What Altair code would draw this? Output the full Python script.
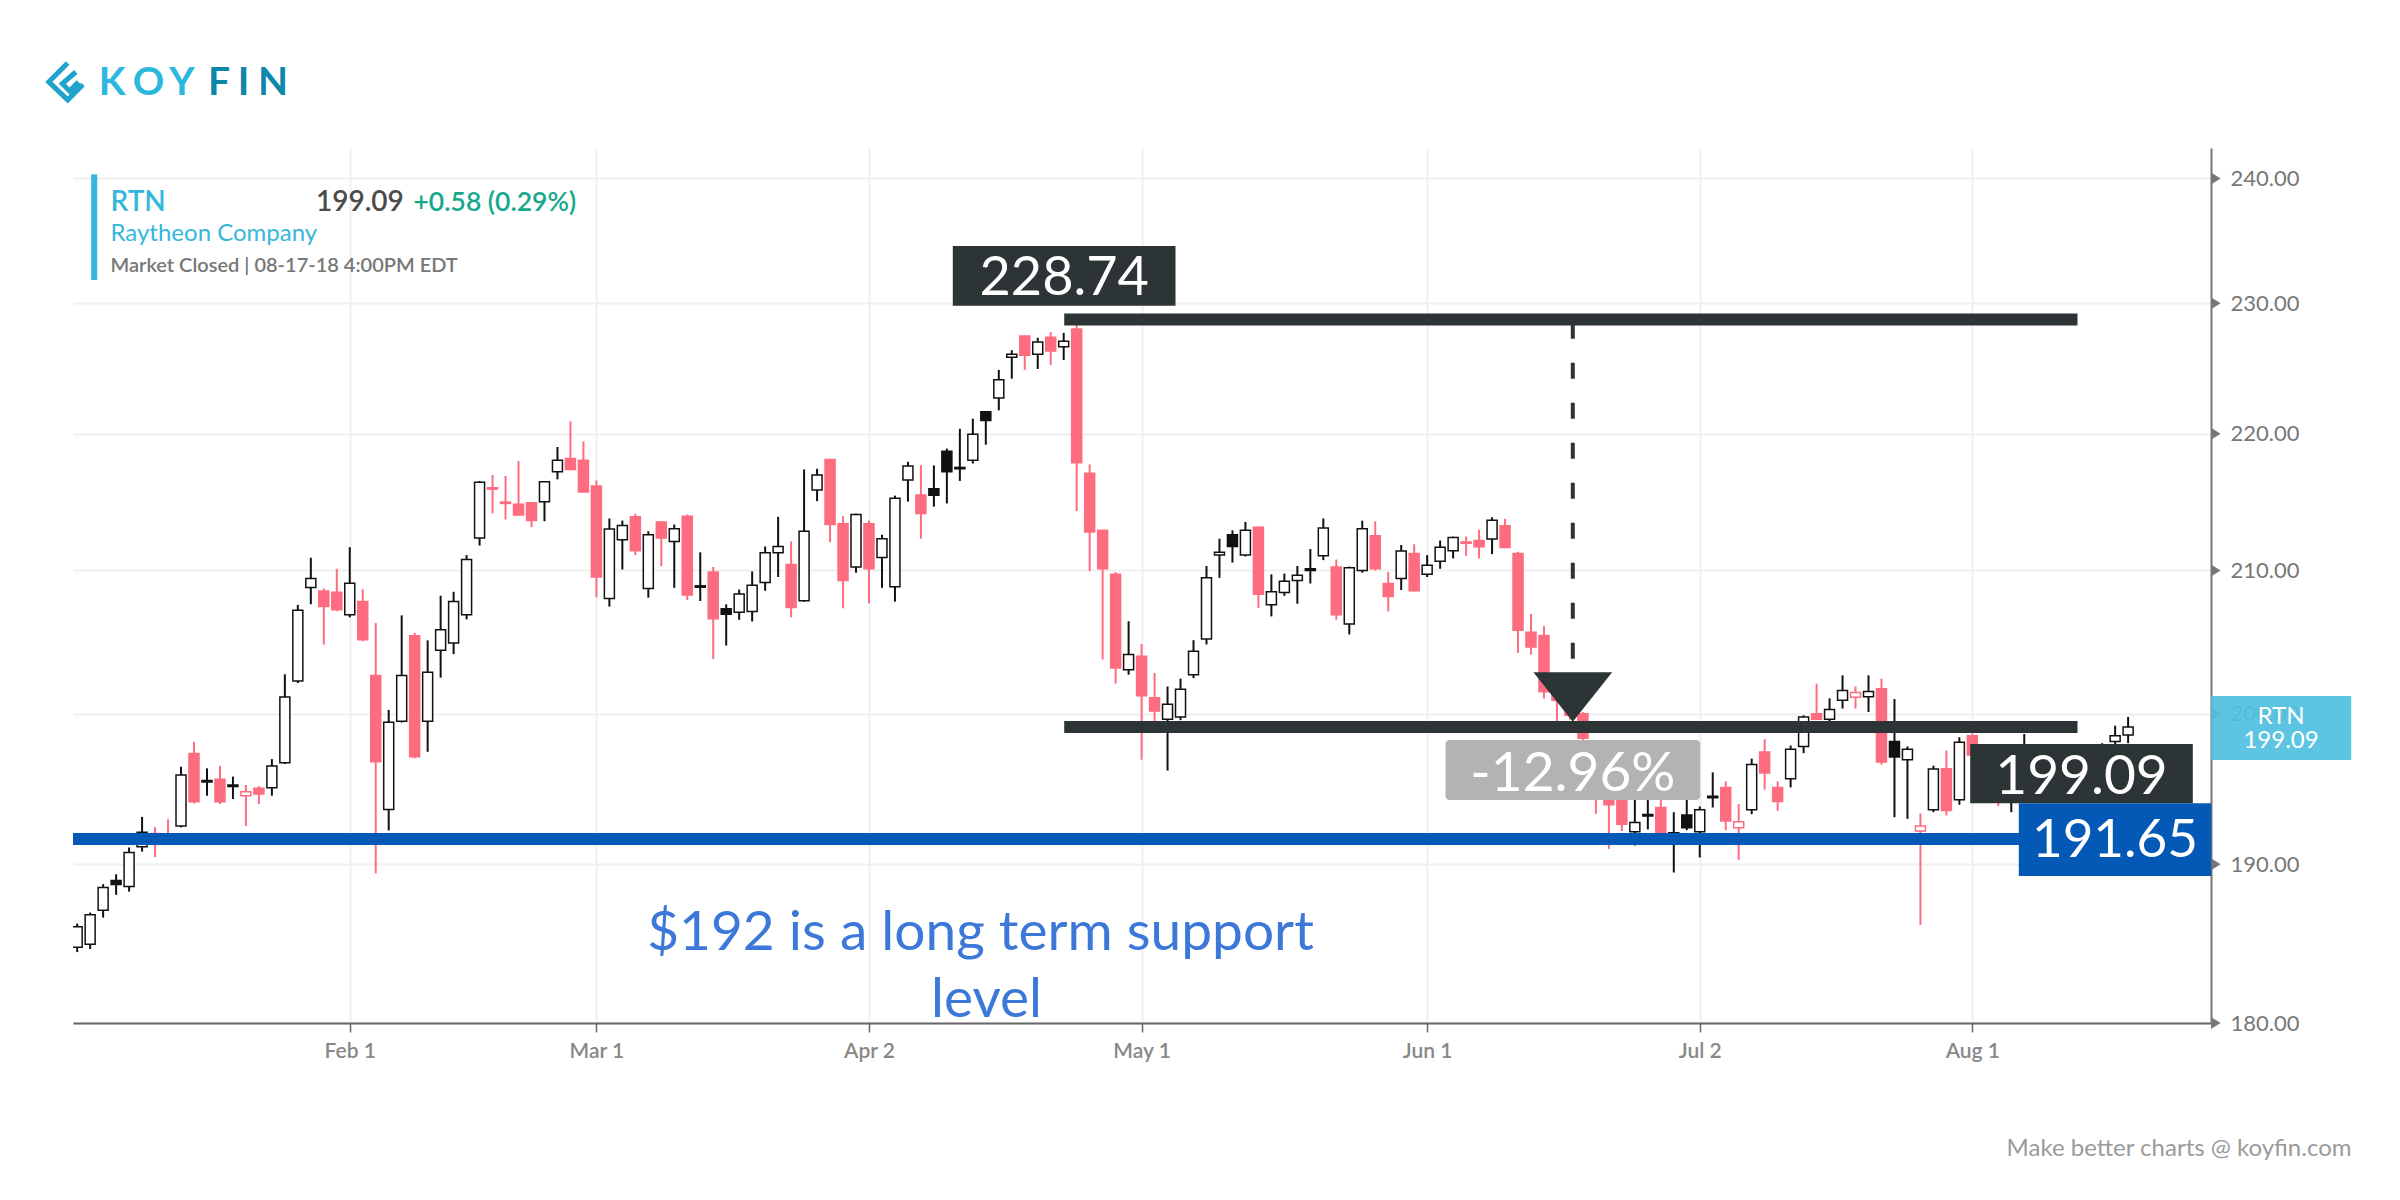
import altair as alt

# ---------------- data ----------------
first_index = -1  # Jan 2 2018 is partly clipped at the left edge
opens = [184.7, 184.9, 187.04, 188.95, 188.57, 191.13, 192.0, 191.8, 192.49, 197.31,
         195.5, 195.58, 195.2, 194.49, 194.98, 195.02, 196.69, 202.24, 208.79, 208.53,
         208.44, 206.85, 207.79, 202.61, 193.58, 199.49, 205.38, 199.49, 204.36, 204.87,
         206.85, 212.33, 216.0, 214.95, 214.78, 214.9, 214.98, 217.18, 218.16, 218.04,
         216.13, 208.01, 212.21, 213.87, 208.71, 213.5, 212.08, 213.92, 208.9, 209.88,
         207.27, 207.03, 207.08, 209.14, 211.27, 210.42, 207.85, 215.83, 218.09, 213.36,
         210.25, 213.36, 210.93, 208.83, 216.57, 215.47, 215.93, 218.7, 217.5, 218.04,
         221.67, 222.7, 225.81, 227.45, 226.04, 227.37, 226.62, 228.0, 217.06, 212.89,
         209.72, 203.02, 203.95, 201.09, 199.62, 199.78, 202.67, 205.16, 211.1, 212.57,
         211.1, 213.11, 207.56, 208.42, 209.28, 210.12, 211.05, 210.24, 206.21, 210.0,
         212.49, 209.07, 209.42, 211.22, 209.72, 210.66, 211.42, 212.05, 212.15, 212.27,
         213.23, 211.22, 205.63, 205.4, 202.2, 200.7, 200.0, 197.8, 195.5, 194.8,
         192.11, 193.25, 193.71, 192.05, 193.22, 192.11, 194.45, 195.04, 192.38, 193.56,
         197.4, 195.04, 195.62, 197.78, 200.0, 199.62, 200.91, 201.12, 201.16, 201.7,
         198.11, 196.89, 192.16, 193.56, 196.29, 194.22, 198.5, 197.0, 197.3, 195.2,
         196.3, 197.5, 196.7, 195.8, 195.3, 196.5, 196.8, 198.11, 198.56]
highs = [186.2, 186.9, 188.72, 189.35, 191.09, 193.09, 192.42, 192.93, 196.42, 198.09,
         196.31, 196.49, 195.76, 195.2, 195.13, 196.93, 202.7, 207.55, 210.91, 208.72,
         210.12, 211.67, 208.65, 206.27, 200.26, 206.81, 205.57, 205.06, 208.2, 208.48,
         211.1, 216.5, 216.94, 216.86, 217.97, 214.95, 216.45, 219.02, 220.94, 219.44,
         216.54, 213.75, 213.6, 214.09, 212.82, 213.55, 213.31, 214.04, 211.3, 210.25,
         207.59, 208.64, 209.93, 211.72, 213.87, 212.08, 217.35, 217.4, 218.14, 213.92,
         214.1, 213.6, 212.57, 215.42, 217.92, 217.67, 217.65, 218.9, 220.38, 221.14,
         221.69, 224.85, 226.36, 227.5, 227.32, 227.75, 227.7, 228.74, 217.72, 212.9,
         209.88, 206.4, 204.81, 202.79, 201.86, 202.4, 205.07, 210.32, 212.28, 212.89,
         213.5, 213.16, 209.72, 209.77, 210.32, 211.54, 213.75, 210.78, 210.28, 213.59,
         213.55, 209.88, 211.83, 211.88, 211.1, 212.15, 212.44, 212.44, 212.93, 213.84,
         213.72, 211.34, 206.91, 206.05, 202.4, 201.3, 200.1, 198.2, 196.0, 195.3,
         194.6, 194.5, 194.22, 193.4, 194.33, 193.78, 196.04, 195.44, 193.93, 196.96,
         198.27, 195.44, 197.84, 199.89, 202.05, 201.05, 202.63, 201.86, 202.63, 202.4,
         201.0, 197.78, 193.33, 196.49, 197.51, 198.4, 198.67, 197.8, 197.6, 196.5,
         198.62, 197.9, 197.4, 196.4, 196.8, 197.8, 198.0, 199.18, 199.78]
lows = [184.4, 184.6, 186.58, 188.03, 188.24, 190.82, 190.47, 191.25, 192.4, 193.98,
        194.49, 193.93, 194.27, 192.49, 193.93, 194.49, 196.6, 202.1, 207.6, 204.76,
        207.1, 206.67, 204.99, 189.41, 192.2, 199.4, 196.98, 197.42, 202.47, 204.1,
        206.53, 211.79, 214.12, 213.68, 213.95, 213.11, 213.55, 216.62, 217.35, 215.69,
        208.08, 207.43, 210.07, 211.1, 208.06, 210.3, 208.76, 207.9, 207.83, 203.76,
        204.7, 206.5, 206.38, 208.55, 209.53, 206.68, 207.78, 215.02, 212.03, 207.31,
        209.84, 207.66, 208.76, 207.78, 214.98, 212.28, 214.61, 214.85, 216.5, 217.79,
        219.19, 221.77, 224.17, 224.85, 224.92, 225.23, 225.61, 214.29, 209.95, 203.72,
        202.05, 202.67, 196.89, 199.3, 196.16, 199.56, 202.44, 204.77, 209.47, 210.56,
        211.0, 207.33, 206.74, 208.19, 207.63, 209.07, 210.74, 206.51, 205.47, 209.84,
        210.0, 207.09, 208.6, 208.49, 209.53, 210.12, 210.86, 211.05, 210.86, 211.17,
        211.6, 204.19, 204.07, 201.05, 198.7, 199.6, 198.2, 193.3, 191.0, 192.16,
        191.22, 192.27, 191.8, 189.47, 192.22, 190.44, 193.71, 192.22, 190.29, 193.27,
        194.89, 193.49, 195.04, 197.33, 199.56, 199.49, 200.35, 200.35, 200.12, 196.56,
        193.07, 192.96, 186.11, 193.4, 193.18, 193.89, 196.5, 195.8, 193.8, 193.4,
        195.8, 196.3, 195.6, 194.6, 194.8, 196.0, 196.2, 197.9, 198.0]
closes = [186.0, 186.76, 188.51, 188.7, 190.76, 192.09, 191.4, 191.3, 195.87, 194.09,
          195.4, 194.09, 195.1, 194.76, 194.6, 196.47, 201.14, 207.18, 209.42, 207.44,
          207.2, 209.09, 205.1, 196.76, 199.42, 202.61, 197.09, 202.84, 205.8, 207.79,
          210.78, 216.4, 215.9, 214.85, 214.0, 213.6, 216.45, 218.04, 217.35, 215.69,
          209.53, 212.99, 213.24, 211.42, 212.57, 212.33, 213.01, 208.25, 208.8, 206.57,
          206.89, 208.32, 208.95, 211.27, 211.72, 207.36, 212.82, 216.94, 213.31, 209.28,
          214.04, 210.12, 212.28, 215.22, 217.6, 214.12, 215.44, 217.18, 217.4, 219.97,
          221.01, 224.09, 226.04, 225.98, 227.0, 226.29, 227.05, 217.84, 212.77, 210.12,
          203.14, 204.07, 201.23, 200.19, 200.65, 201.67, 204.3, 209.47, 211.3, 211.72,
          212.89, 208.3, 208.49, 209.23, 209.65, 210.0, 213.06, 206.86, 210.2, 213.0,
          210.12, 208.14, 211.39, 208.56, 210.37, 211.66, 212.37, 211.95, 211.71, 213.62,
          211.64, 205.77, 204.6, 201.5, 200.9, 199.9, 198.33, 195.0, 193.89, 192.6,
          192.73, 193.15, 191.9, 191.95, 192.38, 193.56, 194.35, 192.82, 192.78, 196.56,
          196.0, 194.11, 197.6, 199.78, 199.62, 200.28, 201.58, 201.44, 201.51, 196.73,
          197.07, 197.6, 192.49, 196.27, 193.51, 198.07, 197.2, 197.4, 195.0, 196.2,
          197.6, 196.8, 196.0, 195.2, 196.4, 197.5, 197.8, 198.51, 199.09]

tick_index = [20, 39, 60, 81, 103, 124, 145]
tick_labels = ["Feb 1", "Mar 1", "Apr 2", "May 1", "Jun 1", "Jul 2", "Aug 1"]
price_ticks = [180, 190, 200, 210, 220, 230, 240]

high_level = 228.74
last_close = 199.09
support_level = 191.65
drop_label = "-12.96%"
level_span = [75.04, 153.1]      # trading-day index range of the two dark level lines
ticker = "RTN"
company = "Raytheon Company"
change_text = "+0.58 (0.29%)"
status_text = "Market Closed | 08-17-18 4:00PM EDT"
note_lines = ["$192 is a long term support", "level"]
footer = "Make better charts @ koyfin.com"

# ---------------- styling ----------------
W, H = 2138, 875
PINK = "#fe6c80"
BLACK = "#111111"
DARK = "#2d3436"
BLUE = "#0359b5"
CYAN = "#35b7dc"
FONT = "Lato"

rows = []
prev = None
for k, (o, h, l, c) in enumerate(zip(opens, highs, lows, closes)):
    col = PINK if (prev is not None and c < prev) else BLACK
    rows.append({"idx": k + first_index, "open": o, "high": h, "low": l, "close": c,
                 "lo": min(o, c), "hi": max(o, c), "stroke": col,
                 "fill": "#ffffff" if c > o else col})
    prev = c

xscale = alt.Scale(domain=[-0.936, 163.0], nice=False, zero=False)
yscale = alt.Scale(type="log", domain=[180, 242.5], nice=False)

label_expr = "[" + ",".join("'%s'" % s for s in tick_labels) + "][indexof([" + \
    ",".join(str(v) for v in tick_index) + "], datum.value)]"

xaxis = alt.Axis(values=tick_index, labelExpr=label_expr, title=None, grid=True,
                 gridColor="#efefef", gridWidth=2, domainColor="#666666", domainWidth=2,
                 tickColor="#666666", tickSize=9, tickWidth=1.5, labelFont=FONT,
                 labelFontSize=21, labelFontWeight=600, labelColor="#888888",
                 labelPadding=8)
yaxis = alt.Axis(values=price_ticks, format=".2f", orient="right", title=None, grid=True,
                 gridColor="#efefef", gridWidth=2, domainColor="#777777", domainWidth=2,
                 ticks=False, labelPadding=19, labelFont=FONT, labelFontSize=22,
                 labelColor="#777777")

candles = alt.Data(values=rows)

wicks = alt.Chart(candles).mark_rule(strokeWidth=2, clip=True).encode(
    x=alt.X("idx:Q", scale=xscale, axis=xaxis),
    y=alt.Y("low:Q", scale=yscale, axis=yaxis),
    y2="high:Q",
    color=alt.Color("stroke:N", scale=None),
)
bodies = alt.Chart(candles).mark_bar(size=10, strokeWidth=1.5, clip=True).encode(
    x=alt.X("idx:Q", scale=xscale, axis=xaxis),
    y=alt.Y("lo:Q", scale=yscale, axis=yaxis),
    y2="hi:Q",
    fill=alt.Fill("fill:N", scale=None),
    stroke=alt.Stroke("stroke:N", scale=None),
)

one = lambda: alt.Data(values=[{"a": 1}])

def level_rule(level, color):
    return alt.Chart(one()).mark_rule(strokeWidth=12, strokeCap="butt", color=color).encode(
        x=alt.XDatum(level_span[0], scale=xscale, axis=xaxis), x2=alt.datum(level_span[1]),
        y=alt.YDatum(level, scale=yscale, axis=yaxis))

support_rule = alt.Chart(one()).mark_rule(strokeWidth=12, strokeCap="butt", color=BLUE).encode(
    x=alt.value(0), x2=alt.value(W), y=alt.YDatum(support_level, scale=yscale, axis=yaxis))

def box(x1, x2, y1, y2, color, radius=0, opacity=1.0):
    return alt.Chart(one()).mark_rect(color=color, cornerRadius=radius, opacity=opacity).encode(
        x=alt.value(x1), x2=alt.value(x2), y=alt.value(y1), y2=alt.value(y2))

def txt(s, x, y, size, color, weight="normal", align="left"):
    return alt.Chart(one()).mark_text(text=s, font=FONT, fontSize=size, color=color,
                                      fontWeight=weight, align=align,
                                      baseline="alphabetic").encode(
        x=alt.value(x), y=alt.value(y))

dash = alt.Chart(one()).mark_rule(strokeWidth=4, color=DARK, strokeDash=[16, 24],
                                  strokeCap="butt").encode(
    x=alt.value(1499.8), y=alt.value(174.7), y2=alt.value(524.3))

arrow = alt.Chart(one()).mark_point(shape="M-1,-0.628L1,-0.628L0,0.628Z", size=6194,
                                    filled=True, color=DARK, opacity=1).encode(
    x=alt.value(1499.8), y=alt.value(549))

tick_marks = alt.Chart(alt.Data(values=[{"v": v} for v in price_ticks])).mark_point(
    shape="M0,-1L1.6,0L0,1Z", size=144, filled=True, color="#777777", opacity=1).encode(
    x=alt.value(W), y=alt.Y("v:Q", scale=yscale, axis=yaxis))

logo_icon = alt.Chart(one()).mark_point(
    shape="M0.15,-1L-0.9,0.05L0.15,1.05L1,0.2M0.6,-0.5L-0.15,0.15L0.25,0.55L0.75,0.05",
    size=1296, filled=False, strokeWidth=5, color="#1fa3cc", opacity=1).encode(
    x=alt.value(-8), y=alt.value(-67))

letters = [("K", 39, "#2bb8de"), ("O", 75.5, "#2bb8de"), ("Y", 109, "#2bb8de"),
           ("F", 146, "#0f87ab"), ("I", 170.5, "#0f87ab"), ("N", 200, "#0f87ab")]
logo_text = [txt(ch, xx, -53, 39, cc, weight="bold", align="center") for ch, xx, cc in letters]

layers = [wicks, bodies, support_rule, level_rule(high_level, DARK),
          level_rule(last_close, DARK), dash, arrow, tick_marks,
          # info panel
          box(18.2, 24.2, 26.3, 132, CYAN),
          txt(ticker, 37.5, 62.7, 28, CYAN, weight=600),
          txt("%.2f" % last_close, 243, 62.7, 28, "#4a4a4a", weight=600),
          txt(change_text, 340.5, 62.7, 26.5, "#16a88a", weight=600),
          txt(company, 37.5, 93, 24, CYAN),
          txt(status_text, 37.5, 123.7, 20, "#777777", weight=600),
          # value labels
          box(879.8, 1102.5, 98, 157.7, DARK),
          txt("%.2f" % high_level, 991.2, 147, 54, "#ffffff", align="center"),
          box(1372.5, 1627.2, 592, 652, "#b3b3b3", radius=4),
          txt(drop_label, 1499.9, 642.7, 55, "#ffffff", align="center"),
          box(1897.2, 2119.8, 596, 655.3, DARK),
          txt("%.2f" % last_close, 2008.5, 646, 55, "#ffffff", align="center"),
          box(1945.8, 2138.2, 655.3, 728, BLUE),
          txt("%.2f" % support_level, 2042, 709.3, 53, "#ffffff", align="center"),
          box(W + 0.2, W + 140.2, 548, 612, "#4fc0de", opacity=0.92),
          txt(ticker, W + 70, 576, 24, "#ffffff", align="center"),
          txt("%.2f" % last_close, W + 70, 600, 24, "#ffffff", align="center"),
          # note + footer
          txt(note_lines[0], 907.5, 802, 55, "#3c78d8", align="center"),
          txt(note_lines[1], 913.5, 868.7, 55, "#3c78d8", align="center"),
          txt(footer, 2278.5, 1008, 24, "#9a9a9a", align="right"),
          logo_icon] + logo_text

chart = alt.layer(*layers).properties(
    width=W, height=H,
    autosize=alt.AutoSizeParams(type="none"),
    padding={"left": 65, "top": 140, "right": 177, "bottom": 169},
    background="#ffffff",
).configure_view(stroke=None)

chart.save("out.html", embed_options={"renderer": "svg", "actions": False})
